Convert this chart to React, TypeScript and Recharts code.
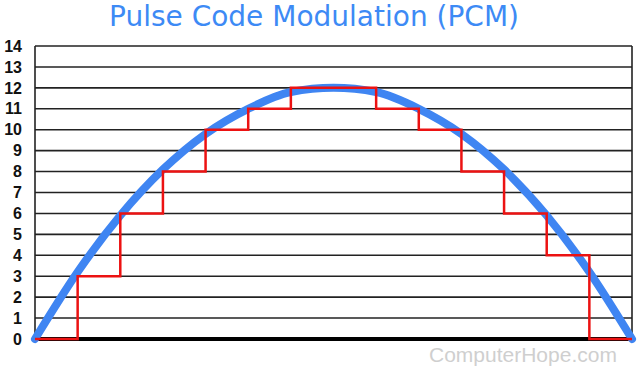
import React from "react"
import { LineChart, Line, XAxis, YAxis, CartesianGrid, ReferenceLine } from "recharts"

// sample instants (grid columns)
const sampleTimes = [0, 1, 2, 3, 4, 5, 6, 7, 8, 9, 10, 11, 12, 13, 14]
// analog signal
const analogSignal = [0, 3.2, 5.9, 8.1, 9.8, 11, 11.8, 12, 11.8, 11, 9.8, 8.1, 5.9, 3.2, 0]
// quantised PCM level held from each sample to the next
const pcmLevels = [0, 3, 6, 8, 10, 11, 12, 12, 11, 10, 8, 6, 4, 0, 0]
const levelTicks = [0, 1, 2, 3, 4, 5, 6, 7, 8, 9, 10, 11, 12, 13, 14]

const data = sampleTimes.map((t, i) => ({
  t,
  analog: analogSignal[i],
  pcm: pcmLevels[i],
}))

export default function App() {
  return (
    <div style={{ position: "absolute", left: 0, top: 0, width: 640, height: 371, background: "#fff" }}>
      <div
        style={{
          position: "absolute",
          left: 0,
          top: 0,
          width: 628,
          textAlign: "center",
          fontFamily: "'DejaVu Sans', Verdana, sans-serif",
          fontSize: 28,
          color: "#3d8af5",
        }}
      >
        Pulse Code Modulation (PCM)
      </div>
      <LineChart width={640} height={371} data={data} margin={{ top: 46, right: 8, bottom: 0, left: 0 }}>
        <CartesianGrid stroke="#222" strokeWidth={1.6} />
        <XAxis
          dataKey="t"
          type="number"
          domain={[0, 14]}
          ticks={sampleTimes}
          tick={false}
          axisLine={false}
          tickLine={false}
          height={32}
        />
        <YAxis
          type="number"
          domain={[0, 14]}
          ticks={levelTicks}
          interval={0}
          width={35}
          axisLine={false}
          tickLine={false}
          tickMargin={7}
          tick={{ fill: "#111", fontSize: 16, fontWeight: "bold", fontFamily: "'Liberation Sans Narrow', 'Liberation Sans', Arial, sans-serif" }}
        />
        <ReferenceLine y={0} stroke="#000" strokeWidth={4} />
        <Line
          dataKey="analog"
          type="monotone"
          stroke="#3f85f2"
          strokeWidth={8}
          strokeLinecap="round"
          dot={false}
          isAnimationActive={false}
        />
        <Line
          dataKey="pcm"
          type="stepAfter"
          stroke="#ec1212"
          strokeWidth={2.5}
          dot={false}
          isAnimationActive={false}
        />
      </LineChart>
      <div
        style={{
          position: "absolute",
          left: 429,
          top: 343,
          fontFamily: "'Liberation Sans', Arial, sans-serif",
          fontSize: 21,
          color: "#cfcfcf",
        }}
      >
        ComputerHope.com
      </div>
    </div>
  )
}
